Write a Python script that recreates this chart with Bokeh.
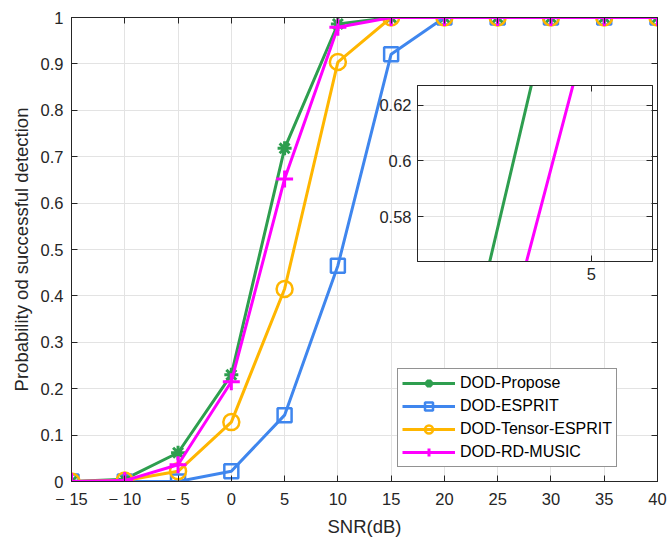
from bokeh.plotting import figure
from bokeh.models import Range1d, FixedTicker, LinearAxis, Legend, LegendItem
from bokeh.layouts import column
from bokeh.embed import file_html
from bokeh.resources import INLINE

# Detection probability versus SNR for four DOD estimators
snr = [-15, -10, -5, 0, 5, 10, 15, 20, 25, 30, 35, 40]
p_propose = [0.0, 0.005, 0.062, 0.230, 0.718, 0.986, 1.0, 1.0, 1.0, 1.0, 1.0, 1.0]
p_esprit = [0.0, 0.0, 0.0, 0.022, 0.143, 0.465, 0.921, 1.0, 1.0, 1.0, 1.0, 1.0]
p_tensor = [0.0, 0.002, 0.022, 0.128, 0.415, 0.904, 1.0, 1.0, 1.0, 1.0, 1.0, 1.0]
p_music = [0.0, 0.002, 0.036, 0.215, 0.652, 0.979, 1.0, 1.0, 1.0, 1.0, 1.0, 1.0]

series_names = ["DOD-Propose", "DOD-ESPRIT", "DOD-Tensor-ESPRIT", "DOD-RD-MUSIC"]

x_ticks = [-15, -10, -5, 0, 5, 10, 15, 20, 25, 30, 35, 40]
x_tick_labels = ["\u2212 15", "\u2212 10", "\u2212 5", "0", "5", "10", "15", "20", "25", "30", "35", "40"]
y_ticks = [0.0, 0.1, 0.2, 0.3, 0.4, 0.5, 0.6, 0.7, 0.8, 0.9, 1.0]
y_tick_labels = ["0", "0.1", "0.2", "0.3", "0.4", "0.5", "0.6", "0.7", "0.8", "0.9", "1"]

# zoomed window around SNR = 5 dB
inset_x = [2.3, 5.95]
inset_y = [0.564, 0.627]
inset_x_ticks = [5]
inset_x_tick_labels = ["5"]
inset_y_ticks = [0.58, 0.6, 0.62]
inset_y_tick_labels = ["0.58", "0.6", "0.62"]

FONT = "Liberation Sans"
INK = "#262626"
GRID = "#e3e3e3"
colors = ["#2e9e4f", "#3f86ee", "#ffb600", "#ff00ff"]
markers = ["asterisk", "square", "circle", "cross"]
marker_sizes = [14, 14, 16, 17]
series = [p_propose, p_esprit, p_tensor, p_music]

# shared side borders (figures stacked in a column get their frames aligned)
BORDER_L = 71
BORDER_R = 11


def mirror_axis(ticks):
    # tick marks only, no labels
    return LinearAxis(ticker=FixedTicker(ticks=ticks),
                      major_label_text_color=None, major_label_text_font_size="1px",
                      major_label_standoff=0, major_tick_in=6, major_tick_out=0,
                      axis_line_color=INK, major_tick_line_color=INK, minor_tick_line_color=None)


def style_axes(fig, xt, xl, yt, yl, font_size):
    xa = fig.below[0]
    ya = fig.left[0]
    for ax in (xa, ya):
        ax.axis_line_color = INK
        ax.major_tick_line_color = INK
        ax.minor_tick_line_color = None
        ax.major_tick_in = 6
        ax.major_tick_out = 0
        ax.major_label_text_font = FONT
        ax.major_label_text_font_size = font_size
        ax.major_label_text_color = INK
        ax.axis_label_text_font = FONT
        ax.axis_label_text_font_style = "normal"
        ax.axis_label_text_color = INK
    xa.ticker = FixedTicker(ticks=xt)
    xa.major_label_overrides = dict(zip(xt, xl))
    ya.ticker = FixedTicker(ticks=yt)
    ya.major_label_overrides = dict(zip(yt, yl))
    fig.add_layout(mirror_axis(xt), "above")
    fig.add_layout(mirror_axis(yt), "right")
    fig.xgrid.grid_line_color = GRID
    fig.ygrid.grid_line_color = GRID
    fig.outline_line_color = INK
    return xa, ya


p = figure(width=668, height=539,
           x_range=Range1d(-15, 40), y_range=Range1d(0, 1),
           min_border_left=BORDER_L, min_border_right=BORDER_R,
           min_border_top=17, min_border_bottom=58,
           output_backend="svg", toolbar_location=None)
xa, ya = style_axes(p, x_ticks, x_tick_labels, y_ticks, y_tick_labels, "16.5px")
xa.axis_label = "SNR(dB)"
ya.axis_label = "Probability od successful detection"
xa.axis_label_text_font_size = "18.5px"
ya.axis_label_text_font_size = "18.5px"
xa.major_label_standoff = 8
ya.major_label_standoff = 8
xa.axis_label_standoff = 5
ya.axis_label_standoff = 6

items = []
for name, vals, col, mk, ms in zip(series_names, series, colors, markers, marker_sizes):
    ln = p.line(snr, vals, line_color=col, line_width=3)
    sc = p.scatter(snr, vals, marker=mk, size=ms, line_color=col, fill_color=None,
                   line_width=3 if mk in ("asterisk", "cross") else 2.5)
    items.append(LegendItem(label=name, renderers=[ln, sc]))

legend = Legend(items=items, location=(326, 14),
                label_text_font=FONT, label_text_font_size="16px", label_text_color="black",
                glyph_width=53, glyph_height=20, label_height=20, label_standoff=5,
                spacing=3, padding=4, margin=0,
                border_line_color=INK, border_line_width=1,
                background_fill_color="white", background_fill_alpha=1)
p.add_layout(legend, "center")

# inset: close-up of the propose / RD-MUSIC curves
INSET_FRAME_W = 235
inset = figure(width=BORDER_L + INSET_FRAME_W + BORDER_R, height=206,
               x_range=Range1d(*inset_x), y_range=Range1d(*inset_y),
               min_border_left=BORDER_L, min_border_right=BORDER_R,
               min_border_top=4, min_border_bottom=26,
               background_fill_alpha=0, border_fill_alpha=0,
               output_backend="svg", toolbar_location=None)
ixa, iya = style_axes(inset, inset_x_ticks, inset_x_tick_labels,
                      inset_y_ticks, inset_y_tick_labels, "16.5px")
ixa.major_label_standoff = 6
iya.major_label_standoff = 6
for vals, col in zip(series, colors):
    inset.line(snr, vals, line_color=col, line_width=3)

# pull the inset up over the upper-right part of the main plot
inset.margin = (-458, 0, 0, 417 - BORDER_L)

layout = column(p, inset, spacing=0)
open("out.html", "w").write(file_html(layout, INLINE))
